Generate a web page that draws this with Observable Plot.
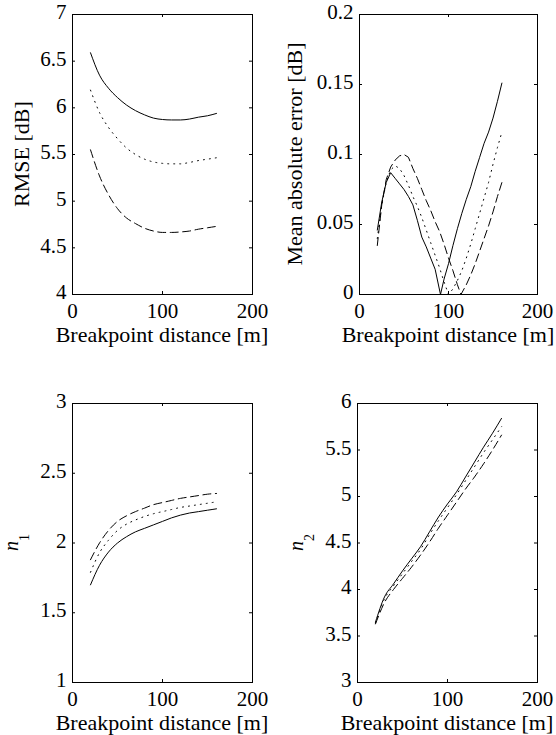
<!DOCTYPE html>
<html><head><meta charset="utf-8">
<script src="https://cdn.jsdelivr.net/npm/d3@7"></script>
<script src="https://cdn.jsdelivr.net/npm/@observablehq/plot@0.6"></script>
<style>
body{margin:0;background:#fff;}
#chart{position:relative;width:556px;height:735px;background:#fff;overflow:hidden;font-family:'Liberation Serif','DejaVu Serif',serif;}
#chart > div{position:absolute;}
#chart svg text, #chart svg tspan{font-family:'Liberation Serif','DejaVu Serif',serif !important;}
</style></head><body><div id="chart"></div>
<script>
// ---------- data ----------
const xTicks = [0, 100, 200];
const x10 = [20, 30, 40, 50, 60, 70, 80, 90, 100, 110, 120, 130, 140, 150, 160];

// RMSE [dB]
const rmseTicks = [4, 4.5, 5, 5.5, 6, 6.5, 7];
const rmseSolid  = [6.59, 6.35, 6.21, 6.11, 6.03, 5.97, 5.925, 5.89, 5.875, 5.87, 5.87, 5.88, 5.90, 5.915, 5.94];
const rmseDotted = [6.19, 5.95, 5.79, 5.67, 5.57, 5.50, 5.45, 5.42, 5.405, 5.40, 5.40, 5.415, 5.435, 5.45, 5.465];
const rmseDashed = [5.55, 5.27, 5.07, 4.92, 4.82, 4.76, 4.71, 4.68, 4.665, 4.665, 4.67, 4.68, 4.70, 4.715, 4.73];

// Mean absolute error [dB]
const maeTicks = [0, 0.05, 0.1, 0.15, 0.2];
const maeXSolid  = [20, 25, 30, 35, 40, 45, 50, 55, 60, 65, 70, 75, 80, 85, 91, 95, 100, 105, 110, 115, 120, 125, 130, 135, 140, 145, 150, 155, 160];
const maeSolid   = [0.046, 0.066, 0.080, 0.087, 0.083, 0.079, 0.075, 0.070, 0.064, 0.053, 0.041, 0.034, 0.026, 0.018, 0, 0.011, 0.022, 0.035, 0.047, 0.058, 0.068, 0.077, 0.088, 0.098, 0.108, 0.116, 0.126, 0.138, 0.151];
const maeXDotted = [20, 25, 30, 35, 40, 45, 50, 55, 60, 65, 70, 75, 80, 85, 90, 95, 100, 105, 110, 115, 120, 125, 130, 135, 140, 145, 150, 155, 160];
const maeDotted  = [0.040, 0.064, 0.080, 0.089, 0.092, 0.090, 0.085, 0.078, 0.070, 0.063, 0.055, 0.046, 0.037, 0.028, 0.019, 0.009, 0, 0.004, 0.010, 0.017, 0.026, 0.036, 0.047, 0.058, 0.069, 0.080, 0.093, 0.105, 0.116];
const maeXDashed = [20, 25, 30, 35, 40, 45, 50, 55, 60, 65, 70, 75, 80, 85, 90, 95, 100, 105, 110, 114, 120, 125, 130, 135, 140, 145, 150, 155, 160];
const maeDashed  = [0.035, 0.064, 0.082, 0.091, 0.096, 0.099, 0.100, 0.098, 0.090, 0.083, 0.075, 0.067, 0.060, 0.052, 0.045, 0.036, 0.026, 0.017, 0.007, 0, 0.007, 0.014, 0.022, 0.031, 0.040, 0.049, 0.059, 0.070, 0.080];

// n1
const n1Ticks = [1, 1.5, 2, 2.5, 3];
const n1Solid  = [1.70, 1.84, 1.935, 2.00, 2.045, 2.08, 2.105, 2.13, 2.155, 2.18, 2.20, 2.215, 2.225, 2.235, 2.245];
const n1Dotted = [1.79, 1.93, 2.02, 2.09, 2.135, 2.165, 2.19, 2.21, 2.225, 2.24, 2.255, 2.265, 2.275, 2.285, 2.295];
const n1Dashed = [1.88, 2.00, 2.09, 2.155, 2.195, 2.225, 2.25, 2.275, 2.29, 2.305, 2.32, 2.33, 2.34, 2.35, 2.355];

// n2
const n2Ticks = [3, 3.5, 4, 4.5, 5, 5.5, 6];
const n2Solid  = [3.65, 3.92, 4.06, 4.20, 4.33, 4.46, 4.62, 4.78, 4.92, 5.05, 5.21, 5.37, 5.53, 5.68, 5.84];
const n2Dotted = [3.64, 3.90, 4.04, 4.17, 4.30, 4.43, 4.59, 4.74, 4.88, 5.02, 5.17, 5.32, 5.47, 5.61, 5.75];
const n2Dashed = [3.63, 3.86, 4.00, 4.12, 4.24, 4.37, 4.51, 4.66, 4.80, 4.94, 5.08, 5.21, 5.35, 5.50, 5.66];

const xLabel = "Breakpoint distance [m]";

// ---------- drawing ----------
const FONT = "'Liberation Serif','DejaVu Serif',serif";
const DASH = {solid: null, dotted: "1,5", dashed: "8,4.5"};
const TICK_FS = 21, LABEL_FS = 22, TICK_LEN = 3;

function panel(cfg) {
  const {left, top, width, height, mL, mR, mT, mB, yDomain, yTicks, series, yLabel, yLabelBase, curve} = cfg;
  const W = width - mL - mR, H = height - mT - mB;
  const fmt = d => String(d);
  const marks = [
    Plot.frame({stroke: "black", strokeWidth: 1}),
    // inward ticks on all four sides
    Plot.tickX(xTicks, {x: d => d, insetTop: H - TICK_LEN, stroke: "black"}),
    Plot.tickX(xTicks, {x: d => d, insetBottom: H - TICK_LEN, stroke: "black"}),
    Plot.tickY(yTicks, {y: d => d, insetRight: W - TICK_LEN, stroke: "black"}),
    Plot.tickY(yTicks, {y: d => d, insetLeft: W - TICK_LEN, stroke: "black"}),
    Plot.axisX(xTicks, {anchor: "bottom", tickSize: 0, tickPadding: 9, tickFormat: fmt, label: null, fontSize: TICK_FS}),
    Plot.axisY(yTicks, {anchor: "left", tickSize: 0, tickPadding: 6, tickFormat: fmt, label: null, fontSize: TICK_FS, dy: -2}),
  ];
  for (const s of series) {
    marks.push(Plot.line(s.y, {
      x: (d, i) => s.x[i], y: d => d,
      stroke: "black", strokeWidth: 1,
      strokeDasharray: DASH[s.style],
      curve: s.curve || curve || "linear"
    }));
  }
  const svg = Plot.plot({
    width, height, marginLeft: mL, marginRight: mR, marginTop: mT, marginBottom: mB,
    style: {fontFamily: FONT, fontSize: TICK_FS + "px", color: "black", background: "white", overflow: "visible"},
    x: {domain: [0, 200]},
    y: {domain: yDomain},
    marks
  });
  const sel = d3.select(svg);
  sel.attr("font-family", FONT);
  // x label
  sel.append("text")
    .attr("x", mL + W / 2).attr("y", mT + H + 48)
    .attr("text-anchor", "middle")
    .attr("font-family", FONT).attr("font-size", LABEL_FS).attr("fill", "black")
    .text(xLabel);
  // y label
  const t = sel.append("text")
    .attr("transform", `translate(${mL - yLabelBase},${mT + H / 2}) rotate(-90)`)
    .attr("text-anchor", "middle")
    .attr("font-family", FONT).attr("font-size", LABEL_FS).attr("fill", "black");
  if (typeof yLabel === "string") {
    t.text(yLabel);
  } else {
    t.attr("font-size", 20);
    t.append("tspan").attr("font-style", "italic").text(yLabel.main);
    t.append("tspan").attr("font-size", 14).attr("dy", 11).text(yLabel.sub);
  }
  const wrap = document.createElement("div");
  wrap.style.left = left + "px";
  wrap.style.top = top + "px";
  wrap.appendChild(svg);
  document.getElementById("chart").appendChild(wrap);
}

panel({
  left: 0, top: 0, width: 278, height: 360, mL: 72, mR: 26, mT: 14, mB: 66,
  yDomain: [4, 7], yTicks: rmseTicks, yLabel: "RMSE [dB]", yLabelBase: 43, curve: "monotone-x",
  series: [
    {x: x10, y: rmseSolid, style: "solid"},
    {x: x10, y: rmseDotted, style: "dotted"},
    {x: x10, y: rmseDashed, style: "dashed"}
  ]
});
panel({
  left: 278, top: 0, width: 278, height: 360, mL: 81, mR: 19, mT: 14, mB: 66,
  yDomain: [0, 0.2], yTicks: maeTicks, yLabel: "Mean absolute error [dB]", yLabelBase: 57, curve: "linear",
  series: [
    {x: maeXSolid, y: maeSolid, style: "solid"},
    {x: maeXDotted, y: maeDotted, style: "dotted"},
    {x: maeXDashed, y: maeDashed, style: "dashed"}
  ]
});
panel({
  left: 0, top: 360, width: 278, height: 375, mL: 72, mR: 26, mT: 43, mB: 53,
  yDomain: [1, 3], yTicks: n1Ticks, yLabel: {main: "n", sub: "1"}, yLabelBase: 54, curve: "monotone-x",
  series: [
    {x: x10, y: n1Solid, style: "solid"},
    {x: x10, y: n1Dotted, style: "dotted"},
    {x: x10, y: n1Dashed, style: "dashed"}
  ]
});
panel({
  left: 278, top: 360, width: 278, height: 375, mL: 79, mR: 19, mT: 43, mB: 53,
  yDomain: [3, 6], yTicks: n2Ticks, yLabel: {main: "n", sub: "2"}, yLabelBase: 54, curve: "monotone-x",
  series: [
    {x: x10, y: n2Solid, style: "solid"},
    {x: x10, y: n2Dotted, style: "dotted"},
    {x: x10, y: n2Dashed, style: "dashed"}
  ]
});
</script>
</body></html>
